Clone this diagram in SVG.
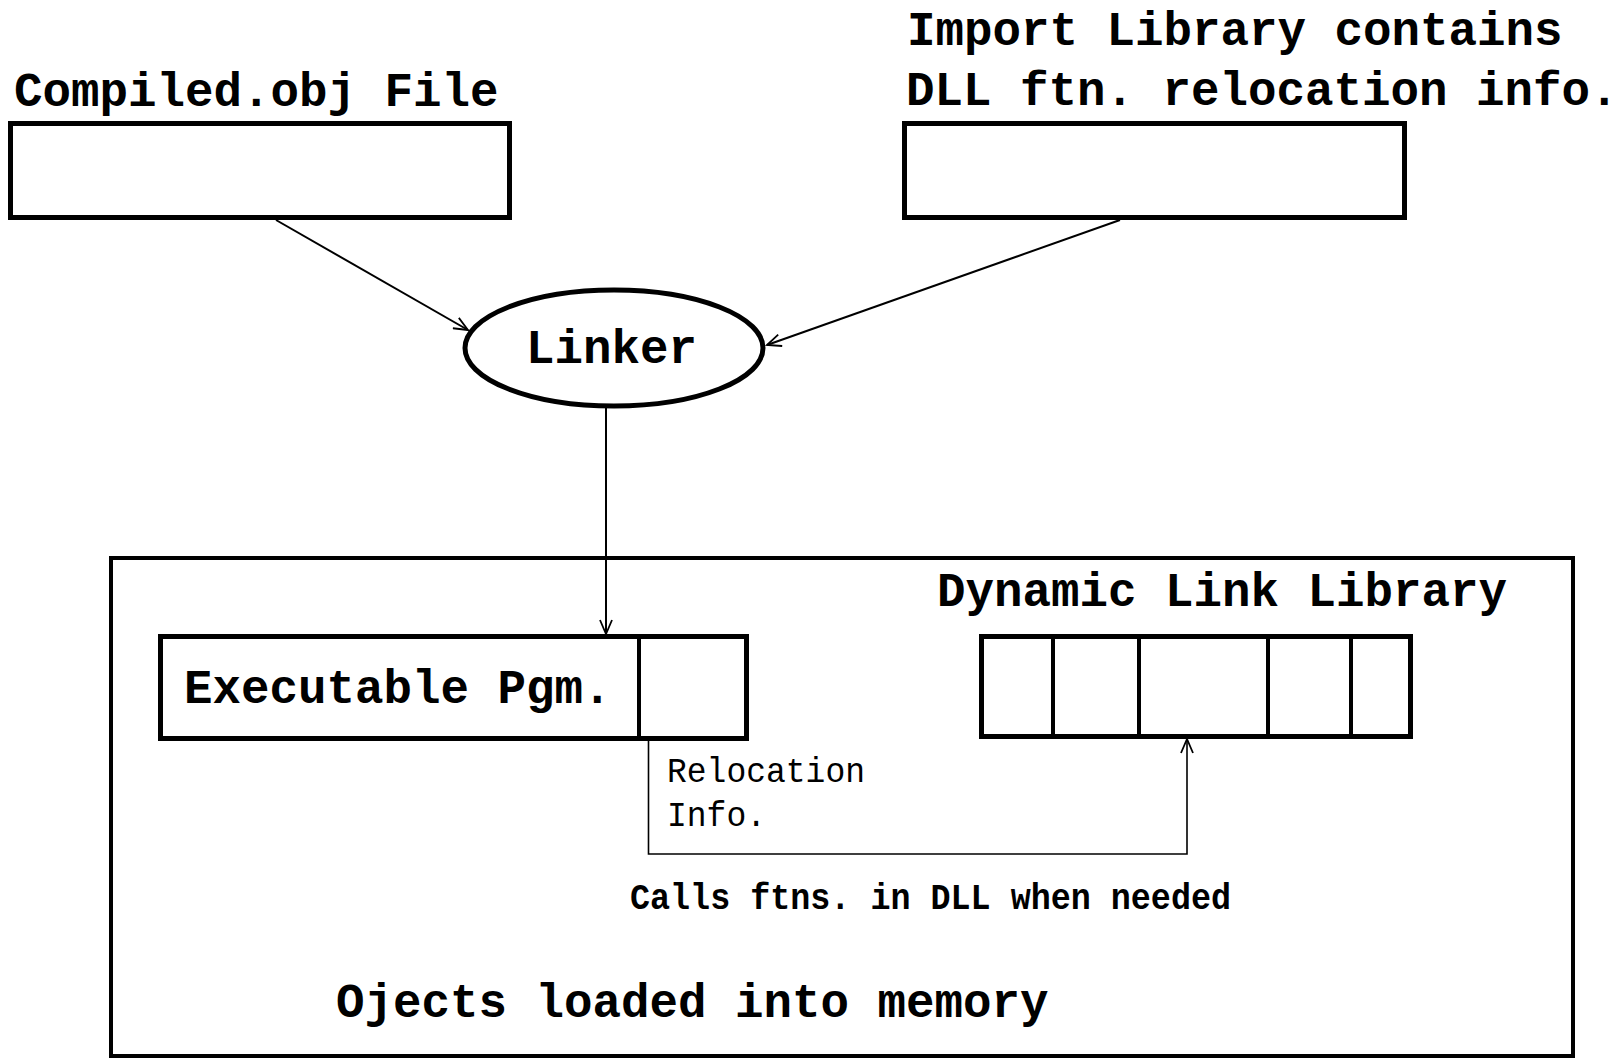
<svg xmlns="http://www.w3.org/2000/svg" width="1618" height="1059" viewBox="0 0 1618 1059">
<style>
.box{fill:none;stroke:#000;stroke-width:5}
.div{stroke:#000;stroke-width:4}
.lbl{font-family:"Liberation Mono","DejaVu Sans Mono",monospace;font-weight:bold;font-size:47.5px;fill:#000}
.small{font-family:"Liberation Mono","DejaVu Sans Mono",monospace;font-size:35px;fill:#000}
.mid{font-family:"Liberation Mono","DejaVu Sans Mono",monospace;font-weight:bold;font-size:37px;fill:#000}
.conn{fill:none;stroke:#000;stroke-width:2}
.thin{fill:none;stroke:#000;stroke-width:1.6}
</style>
<defs>
<marker id="arr" markerUnits="userSpaceOnUse" markerWidth="18" markerHeight="14" refX="15" refY="7" orient="auto">
<path d="M1,1 L15,7 L1,13" fill="none" stroke="#000" stroke-width="1.8"/>
</marker>
</defs>
<rect x="0" y="0" width="1618" height="1059" fill="#fff"/>
<g id="compiled">
<text class="lbl" x="14" y="106">Compiled.obj File</text>
<rect class="box" x="10.5" y="123.5" width="499" height="94"/>
</g>
<g id="importlib">
<text class="lbl" x="907" y="45">Import Library contains</text>
<text class="lbl" x="906" y="105">DLL ftn. relocation info.</text>
<rect class="box" x="904.5" y="123.5" width="500" height="94"/>
</g>
<g id="linker">
<ellipse class="box" cx="614" cy="348" rx="149" ry="58"/>
<text class="lbl" x="526" y="363">Linker</text>
</g>
<g id="memory">
<rect fill="none" stroke="#000" stroke-width="4" x="111" y="558" width="1462" height="498"/>
<text class="lbl" x="336" y="1017">Ojects loaded into memory</text>
</g>
<g id="executable">
<rect class="box" x="160.5" y="636.5" width="586" height="102"/>
<line class="div" x1="639" y1="636" x2="639" y2="739" stroke-width="3"/>
<text class="lbl" x="184" y="703">Executable Pgm.</text>
</g>
<g id="dll">
<text class="lbl" x="937" y="606">Dynamic Link Library</text>
<rect class="box" x="981.5" y="636.5" width="429" height="100"/>
<line class="div" x1="1053" y1="636" x2="1053" y2="737"/>
<line class="div" x1="1139" y1="636" x2="1139" y2="737"/>
<line class="div" x1="1268" y1="636" x2="1268" y2="737"/>
<line class="div" x1="1351" y1="636" x2="1351" y2="737"/>
</g>
<g id="connectors">
<line class="conn" x1="276" y1="220" x2="468" y2="330" marker-end="url(#arr)"/>
<line class="conn" x1="1120" y1="220" x2="767" y2="345" marker-end="url(#arr)"/>
<line class="conn" x1="606" y1="407" x2="606" y2="634" marker-end="url(#arr)"/>
<polyline class="thin" points="648.5,741 648.5,854 1187,854 1187,739" marker-end="url(#arr)"/>
</g>
<g id="labels">
<text class="small" x="667" y="782" textLength="198" lengthAdjust="spacingAndGlyphs">Relocation</text>
<text class="small" x="667" y="826" textLength="99" lengthAdjust="spacingAndGlyphs">Info.</text>
<text class="mid" x="630" y="909" textLength="601" lengthAdjust="spacingAndGlyphs">Calls ftns. in DLL when needed</text>
</g>
</svg>
